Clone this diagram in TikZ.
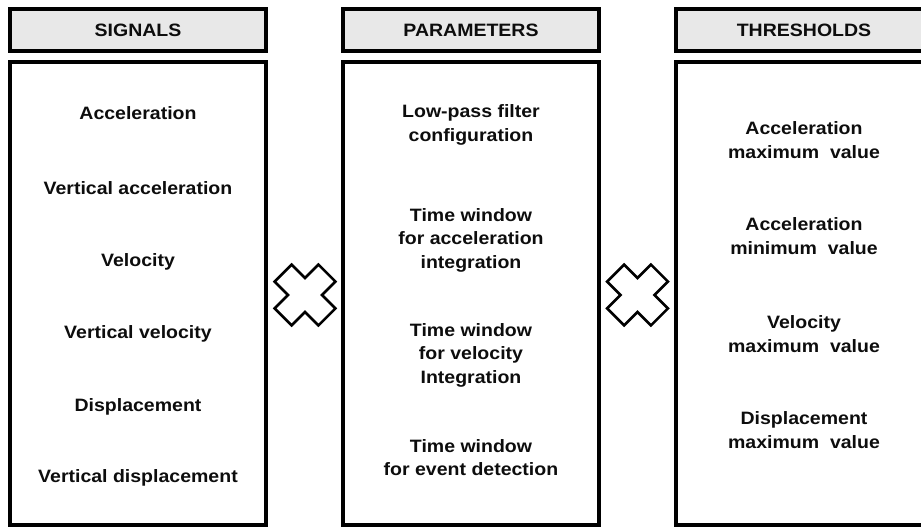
\documentclass[tikz,border=0pt]{standalone}
\usepackage{fontspec}
\newfontfamily\labfont[FakeStretch=1.09]{Liberation Sans}
\begin{document}
\begin{tikzpicture}[x=1pt,y=-1pt,
  frame/.style={draw=black, line width=4pt, minimum width=256pt, inner sep=0pt},
  head/.style={frame, fill=black!9, minimum height=42pt},
  body/.style={frame, fill=white, minimum height=463pt},
  lbl/.style={font=\labfont\bfseries\fontsize{17.9}{23.5}\selectfont, align=center, text=black!95, inner sep=0pt},
  cross/.style={draw=black, line width=2.6pt, fill=white, line join=miter}]
\useasboundingbox (0,0) rectangle (921,529);

% column frames
\node[head] (hsig) at (138,30) {};
\node[head] (hpar) at (471,30) {};
\node[head] (hthr) at (804,30) {};
\node[body] (bsig) at (138,293.5) {};
\node[body] (bpar) at (471,293.5) {};
\node[body] (bthr) at (804,293.5) {};

% headings
\node[lbl] (tsig) at (hsig) {SIGNALS};
\node[lbl] (tpar) at (hpar) {PARAMETERS};
\node[lbl] (tthr) at (hthr) {THRESHOLDS};

% signals
\node[lbl] (s1) at (138,113) {Acceleration};
\node[lbl] (s2) at (138,188) {Vertical acceleration};
\node[lbl] (s3) at (138,262) {Velocity};
\node[lbl] (s4) at (138,334) {Vertical velocity};
\node[lbl] (s5) at (138,407) {Displacement};
\node[lbl] (s6) at (138,478) {Vertical displacement};

% parameters
\node[lbl] (p1) at (471,125) {Low-pass filter\\configuration};
\node[lbl] (p2) at (471,240) {Time window\\for acceleration\\integration};
\node[lbl] (p3) at (471,355) {Time window\\for velocity\\Integration};
\node[lbl] (p4) at (471,457.5) {Time window\\for event detection};

% thresholds
\node[lbl] (t1) at (804,140) {Acceleration\\maximum\ \ value};
\node[lbl] (t2) at (804,236) {Acceleration\\minimum\ \ value};
\node[lbl] (t3) at (804,334) {Velocity\\maximum\ \ value};
\node[lbl] (t4) at (804,430) {Displacement\\maximum\ \ value};

% combination crosses between the columns
\foreach \cx in {305,637.5}{
  \begin{scope}[shift={(\cx,295)}, rotate=45]
    \draw[cross] (12,31) -- (12,12) -- (31,12) -- (31,-12) -- (12,-12) -- (12,-31)
      -- (-12,-31) -- (-12,-12) -- (-31,-12) -- (-31,12) -- (-12,12) -- (-12,31) -- cycle;
  \end{scope}
}
\end{tikzpicture}
\end{document}
